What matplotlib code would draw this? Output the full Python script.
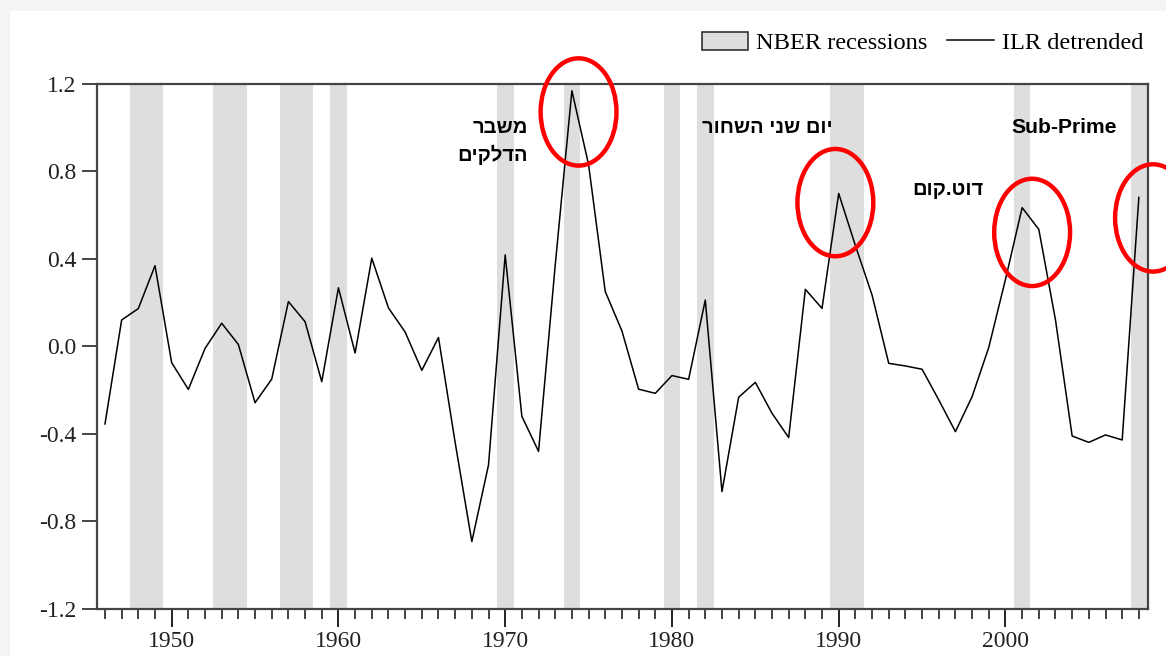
import numpy as np
import matplotlib
matplotlib.use("Agg")
import matplotlib.pyplot as plt
from matplotlib.patches import Ellipse, Patch, Rectangle
from matplotlib.lines import Line2D
from matplotlib.ticker import MultipleLocator

# ILR detrended, annual 1946-2008
years = np.arange(1946, 2009)
ilr = [-0.355, 0.12, 0.172, 0.368, -0.075, -0.197, -0.01, 0.105, 0.008, -0.258,
       -0.15, 0.204, 0.112, -0.162, 0.267, -0.031, 0.402, 0.175, 0.065, -0.11,
       0.04, -0.44, -0.892, -0.542, 0.417, -0.32, -0.48, 0.37, 1.167, 0.83,
       0.25, 0.07, -0.196, -0.215, -0.134, -0.151, 0.211, -0.664, -0.233, -0.165,
       -0.306, -0.417, 0.26, 0.173, 0.698, 0.46, 0.234, -0.078, -0.09, -0.105,
       -0.245, -0.39, -0.23, -0.005, 0.305, 0.633, 0.534, 0.12, -0.41, -0.439,
       -0.405, -0.428, 0.68]

# NBER recession years (first, last), shaded by whole year
rec_start = [1948, 1953, 1957, 1960, 1970, 1974, 1980, 1982, 1990, 2001, 2008]
rec_end = [1949, 1954, 1958, 1960, 1970, 1974, 1980, 1982, 1991, 2001, 2008]

# highlighted peaks (circled in red)
peak_x = [1974.4, 1989.8, 2001.6, 2008.85]
peak_y = [1.07, 0.656, 0.52, 0.586]

serif = ["Liberation Serif", "DejaVu Serif"]
sans = ["Liberation Sans", "DejaVu Sans"]

W, H = 1166, 656
fig = plt.figure(figsize=(W / 100, H / 100), dpi=100, facecolor="#f3f5f5")
fig.patches.append(Rectangle((10 / W, 0), 1 - 10 / W, 1 - 10.5 / H,
                             transform=fig.transFigure, facecolor="white",
                             edgecolor="none", zorder=-10))

ax = fig.add_axes([97.3 / W, (H - 609) / H, (1147.7 - 97.3) / W, (609 - 83.5) / H])
ax.set_facecolor("white")

for s, e in zip(rec_start, rec_end):
    ax.axvspan(s - 0.5, e + 0.5, color="#dedede", lw=0, zorder=1)

ax.plot(years, ilr, color="black", lw=1.1, zorder=3)

for cx, cy in zip(peak_x, peak_y):
    ax.add_patch(Ellipse((cx, cy), 4.55, 0.49, fill=False, edgecolor="#ff0000",
                         lw=3.2, zorder=5, clip_on=False))

ax.set_xlim(1945.54, 2008.53)
ax.set_ylim(-1.2, 1.2)
ax.set_yticks(np.arange(-1.2, 1.21, 0.4))
ax.set_yticklabels([f"{v:.1f}" for v in np.arange(-1.2, 1.21, 0.4)])
ax.xaxis.set_major_locator(MultipleLocator(10))
ax.xaxis.set_minor_locator(MultipleLocator(1))

for sp in ax.spines.values():
    sp.set_color("#444444")
    sp.set_linewidth(1.6)

ax.tick_params(axis="y", direction="out", length=11, width=1.4, color="#444444",
               pad=4, labelsize=17, labelcolor="#222222")
ax.tick_params(axis="x", which="major", direction="out", length=13, width=1.4,
               color="#222222", pad=3, labelsize=17, labelcolor="#222222")
ax.tick_params(axis="x", which="minor", direction="out", length=7, width=1.2,
               color="#222222")
for lab in ax.get_xticklabels() + ax.get_yticklabels():
    lab.set_family(serif)

# annotations (Hebrew written in visual order)
def heb(s):
    return s[::-1]

txt = dict(fontsize=14.5, fontweight="bold", family=sans, color="black",
           va="center", zorder=6)
ax.text(1971.36, 0.997, heb("משבר"), ha="right", **txt)
ax.text(1971.36, 0.873, heb("הדלקים"), ha="right", **txt)
ax.text(1985.72, 0.997, heb("יום שני השחור"), ha="center", **txt)
ax.text(1996.54, 0.714, heb("דוט.קום"), ha="center", **txt)
ax.text(2003.5, 0.997, "Sub-Prime", ha="center", fontsize=15.2,
        fontweight="bold", family=sans, color="black", va="center", zorder=6)

handles = [Patch(facecolor="#dedede", edgecolor="#333333", lw=1.2),
           Line2D([], [], color="black", lw=1.1)]
fig.legend(handles, ["NBER recessions", "ILR detrended"], ncol=2,
           loc="center right", bbox_to_anchor=(1143 / W, 1 - 43 / H),
           frameon=False, borderpad=0, borderaxespad=0,
           handlelength=1.9, handleheight=0.8, handletextpad=0.33,
           columnspacing=0.8, prop={"family": serif, "size": 17.6})

fig.savefig("out.png", dpi=100, facecolor=fig.get_facecolor())
